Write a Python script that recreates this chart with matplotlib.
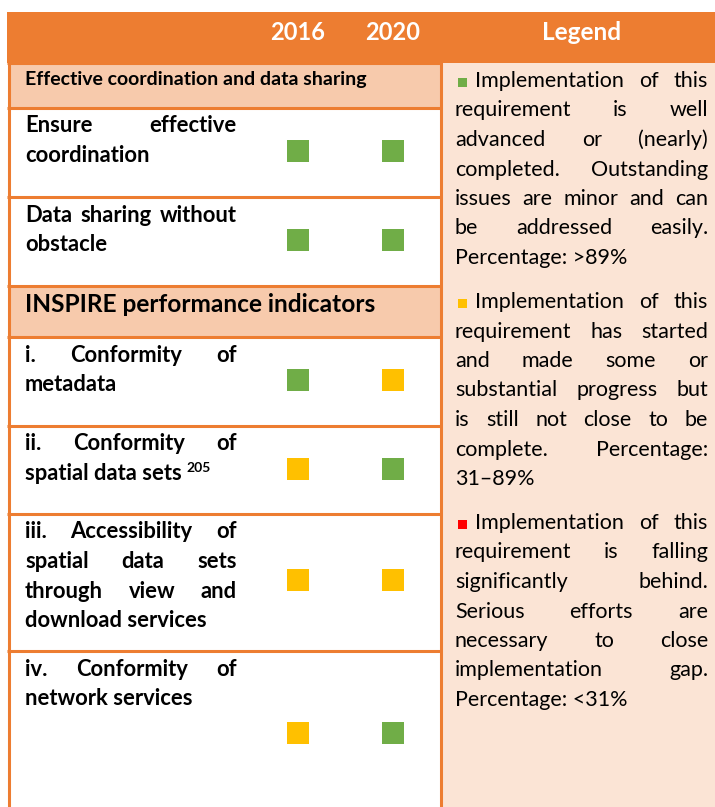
import matplotlib
matplotlib.use('Agg')
import matplotlib.pyplot as plt
from matplotlib.patches import Rectangle

# Table content
years = ['2016', '2020']
section_titles = ['Effective coordination and data sharing', 'INSPIRE performance indicators']
row_lines = [
    ['Ensure effective', 'coordination'],
    ['Data sharing without', 'obstacle'],
    ['i. Conformity of', 'metadata'],
    ['ii. Conformity of', 'spatial data sets'],
    ['iii. Accessibility of', 'spatial data sets', 'through view and', 'download services'],
    ['iv. Conformity of', 'network services'],
]
row_footnotes = ['', '', '', '205', '', '']
status_2016 = ['good', 'good', 'good', 'partial', 'partial', 'partial']
status_2020 = ['good', 'good', 'partial', 'good', 'partial', 'good']
status_colors = {'good': '#70AD47', 'partial': '#FFC000', 'behind': '#FF0000'}

legend_keys = ['good', 'partial', 'behind']
legend_good = ['Implementation of this', 'requirement is well', 'advanced or (nearly)',
               'completed. Outstanding', 'issues are minor and can', 'be addressed easily.',
               'Percentage: >89%']
legend_partial = ['Implementation of this', 'requirement has started', 'and made some or',
                  'substantial progress but', 'is still not close to be', 'complete. Percentage:',
                  '31–89%']
legend_behind = ['Implementation of this', 'requirement is falling', 'significantly behind.',
                 'Serious efforts are', 'necessary to close', 'implementation gap.',
                 'Percentage: <31%']
legend_texts = [legend_good, legend_partial, legend_behind]

# Layout (pixel units, y downward)
W, H = 715, 807
FONT = ['Lato', 'DejaVu Sans']
ORANGE = '#ED7D31'
PEACH = '#F7CAAC'
LIGHT = '#FBE4D5'
section_spans = [(63, 108), (286, 337)]
row_spans = [(108, 197), (197, 285), (337, 426), (426, 514), (514, 651), (651, 807)]
square_y = [151, 240, 380, 469, 580, 733]
year_x = [298, 393]
left_x0, left_x1 = 25, 237
leg_x0, leg_x1 = 455, 708
leg_start = [81, 302, 523]
line_step = 29.5
ROW_SIZE = 15.8
LEG_SIZE = 15.5

fig = plt.figure(figsize=(7.15, 8.07), dpi=100)
ax = fig.add_axes([0, 0, 1, 1])
ax.set_xlim(0, W)
ax.set_ylim(H, 0)
ax.axis('off')
renderer = fig.canvas.get_renderer()


def text_width(t):
    return t.get_window_extent(renderer).width


def put_line(line, x0, x1, y, size, weight, justify):
    words = line.split()
    if not justify or len(words) == 1:
        t = ax.text(x0, y, line, fontsize=size, fontweight=weight, family=FONT,
                    va='center', ha='left')
        return x0 + text_width(t)
    texts = [ax.text(0, y, w, fontsize=size, fontweight=weight, family=FONT,
                     va='center', ha='left') for w in words]
    widths = [text_width(t) for t in texts]
    gap = (x1 - x0 - sum(widths)) / (len(words) - 1)
    x = x0
    for t, w in zip(texts, widths):
        t.set_x(x)
        x += w + gap
    return x1


# backgrounds
ax.add_patch(Rectangle((441, 63), W - 441, H - 63, color=LIGHT, lw=0))
ax.add_patch(Rectangle((7, 12), W - 7, 51, color=ORANGE, lw=0))
for (y0, y1) in section_spans:
    ax.add_patch(Rectangle((9, y0), 432, y1 - y0, color=PEACH, lw=0))

# header
for x, yr in zip(year_x, years):
    ax.text(x, 32, yr, color='white', fontsize=17, fontweight='bold', family=FONT,
            ha='center', va='center')
ax.text(582, 32, 'Legend', color='white', fontsize=17.5, fontweight='bold', family=FONT,
        ha='center', va='center')

# section titles
ax.text(left_x0, 79, section_titles[0], fontsize=14, fontweight='bold', family=FONT,
        ha='left', va='center')
ax.text(left_x0, 305, section_titles[1], fontsize=17.6, fontweight='bold', family=FONT,
        ha='left', va='center')

# rows
for i, (y0, y1) in enumerate(row_spans):
    lines = row_lines[i]
    for j, line in enumerate(lines):
        y = y0 + 18 + j * line_step
        end = put_line(line, left_x0, left_x1, y, ROW_SIZE, 'bold', j < len(lines) - 1)
    if row_footnotes[i]:
        ax.text(end + 5, y - 6, row_footnotes[i], fontsize=10, fontweight='bold',
                family=FONT, ha='left', va='center')
    for x, st in zip(year_x, [status_2016[i], status_2020[i]]):
        ax.scatter([x], [square_y[i]], marker='s', s=22 ** 2 * 0.5184,
                   color=status_colors[st], linewidths=0)

# grid lines
for y in [63, 108, 197, 286, 337, 426, 514, 651]:
    ax.plot([7, 441], [y, y], color=ORANGE, lw=2.2, solid_capstyle='butt')
ax.plot([9, 9], [63, H], color=ORANGE, lw=2.2)
ax.plot([441, 441], [63, H], color=ORANGE, lw=2.2)

# legend
for k, key in enumerate(legend_keys):
    lines = legend_texts[k]
    for j, line in enumerate(lines):
        y = leg_start[k] + j * line_step
        if j == 0:
            ax.add_patch(Rectangle((458, y - 3), 9, 9, color=status_colors[key], lw=0))
            put_line(line, 475, leg_x1, y, LEG_SIZE, 'normal', True)
        else:
            put_line(line, leg_x0, leg_x1, y, LEG_SIZE, 'normal', j < len(lines) - 1)

fig.savefig('out.png', dpi=100)
